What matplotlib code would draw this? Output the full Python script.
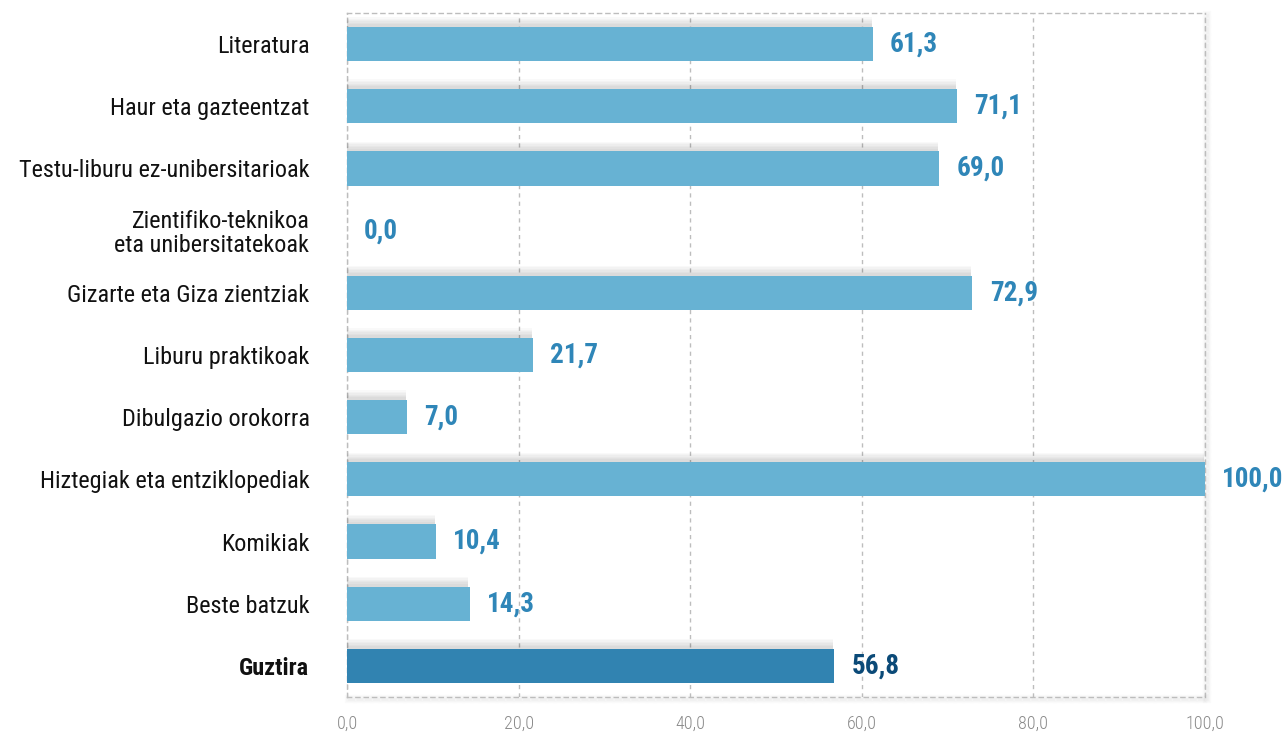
import matplotlib
matplotlib.use("Agg")
import matplotlib.pyplot as plt
import matplotlib.patheffects as pe

categories = ["Literatura", "Haur eta gazteentzat", "Testu-liburu ez-unibersitarioak",
              "Zientifiko-teknikoa\neta unibersitatekoak", "Gizarte eta Giza zientziak",
              "Liburu praktikoak", "Dibulgazio orokorra", "Hiztegiak eta entziklopediak",
              "Komikiak", "Beste batzuk", "Guztira"]
values = [61.3, 71.1, 69.0, 0.0, 72.9, 21.7, 7.0, 100.0, 10.4, 14.3, 56.8]
xticks = [0, 20, 40, 60, 80, 100]
xticklabels = ["0,0", "20,0", "40,0", "60,0", "80,0", "100,0"]

FONT = "Roboto Condensed"
fig = plt.figure(figsize=(12.87, 7.38), dpi=100)
ax = fig.add_axes([347/1287, 1-697/738, (1205-347)/1287, (697-13)/738])

n = len(categories)
ypos = list(range(n))
colors = ["#67b2d3"] * (n - 1) + ["#3183b1"]
shadow = [pe.SimplePatchShadow(offset=(-1, k), shadow_rgbFace="#000000", alpha=0.022)
          for k in (7, 6, 5, 4, 3, 2)] + [pe.Normal()]
bars = ax.barh(ypos, values, height=0.55, color=colors, zorder=3)
for b, v in zip(bars, values):
    if v > 0:
        b.set_path_effects(shadow)

for i, v in enumerate(values):
    last = i == n - 1
    ax.text(v + 2.0, i, f"{v:.1f}".replace(".", ","), va="center", ha="left",
            fontsize=19.5, fontweight="bold", family=FONT,
            color="#0b4a78" if last else "#2f86b8", zorder=4)

ax.set_ylim(n - 0.5, -0.5)
ax.set_xlim(0, 100)
ax.set_yticks(ypos)
ax.set_yticklabels(categories, family=FONT, fontsize=17.5, color="#111111", linespacing=1.05)
ax.get_yticklabels()[-1].set_fontweight("bold")
ax.set_xticks(xticks)
ax.set_xticklabels(xticklabels, family=FONT, fontsize=13, fontweight="light", color="#8a8a8a")
ax.tick_params(axis="both", length=0)
ax.tick_params(axis="y", pad=27)
ax.tick_params(axis="x", pad=13)

ax.grid(axis="x", linestyle=(0, (3, 3)), color="#bdbdbd", linewidth=1, zorder=0)
for s in ax.spines.values():
    s.set_linestyle((0, (3, 3)))
    s.set_color("#bdbdbd")
    s.set_linewidth(1)
    s.set_zorder(0)
spine_shadow = [pe.SimpleLineShadow(offset=(1.5, -1.5), shadow_color="#000000", alpha=0.02, linewidth=w)
                for w in (6, 4, 2)] + [pe.Normal()]
for s in ["right", "bottom"]:
    ax.spines[s].set_path_effects(spine_shadow)

fig.savefig("out.png", dpi=100)
